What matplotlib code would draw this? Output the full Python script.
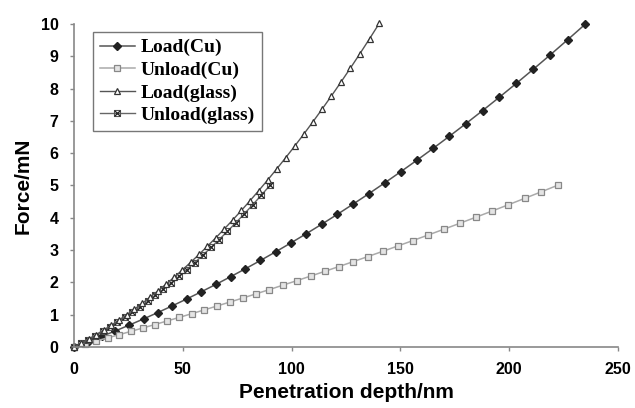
import matplotlib
matplotlib.use("Agg")
import matplotlib.pyplot as plt
from matplotlib.legend_handler import HandlerTuple

# depth (nm) and force (mN)
load_cu_depth = [0, 6.30, 12.65, 19.04, 25.48, 31.98, 38.52, 45.10, 51.74, 58.43,
                 65.17, 71.96, 78.80, 85.69, 92.63, 99.63, 106.67, 113.77, 120.93, 128.13,
                 135.39, 142.71, 150.08, 157.51, 164.99, 172.53, 180.12, 187.77, 195.48, 203.24,
                 211.07, 218.95, 226.89, 234.90]
load_cu_force = [0, 0.159, 0.326, 0.499, 0.681, 0.870, 1.067, 1.272, 1.485, 1.707,
                 1.937, 2.176, 2.423, 2.679, 2.945, 3.220, 3.504, 3.798, 4.103, 4.418,
                 4.742, 5.077, 5.423, 5.779, 6.147, 6.526, 6.916, 7.319, 7.733, 8.159,
                 8.599, 9.049, 9.514, 9.992]

unload_cu_depth = [0, 5.10, 10.27, 15.49, 20.79, 26.15, 31.58, 37.08, 42.65, 48.29,
                   54.00, 59.78, 65.63, 71.56, 77.56, 83.64, 89.79, 96.02, 102.34, 108.72,
                   115.19, 121.75, 128.38, 135.10, 141.90, 148.79, 155.77, 162.83, 169.98, 177.22,
                   184.56, 191.98, 199.50, 207.12, 214.83, 222.63]
unload_cu_force = [0, 0.092, 0.187, 0.283, 0.382, 0.484, 0.587, 0.694, 0.803, 0.915,
                   1.029, 1.147, 1.267, 1.390, 1.516, 1.645, 1.778, 1.914, 2.053, 2.195,
                   2.341, 2.491, 2.644, 2.801, 2.962, 3.127, 3.296, 3.469, 3.646, 3.828,
                   4.015, 4.205, 4.401, 4.602, 4.807, 5.017]

load_gl_depth = [0, 3.38, 6.78, 10.22, 13.68, 17.16, 20.68, 24.22, 27.80, 31.40,
                 35.03, 38.68, 42.37, 46.09, 49.84, 53.61, 57.42, 61.26, 65.13, 69.03,
                 72.96, 76.92, 80.92, 84.94, 89.00, 93.09, 97.22, 101.37, 105.56, 109.78,
                 114.04, 118.33, 122.65, 127.01, 131.41, 135.83, 140.30]
load_gl_force = [0, 0.121, 0.249, 0.384, 0.527, 0.676, 0.834, 0.999, 1.173, 1.354,
                 1.543, 1.741, 1.948, 2.163, 2.388, 2.621, 2.864, 3.117, 3.379, 3.652,
                 3.934, 4.227, 4.531, 4.845, 5.170, 5.507, 5.855, 6.215, 6.586, 6.970,
                 7.367, 7.776, 8.198, 8.633, 9.083, 9.544, 10.021]

unload_gl_depth = [0, 3.27, 6.55, 9.88, 13.23, 16.59, 19.99, 23.42, 26.88, 30.36,
                   33.87, 37.40, 40.96, 44.56, 48.19, 51.83, 55.51, 59.23, 62.97, 66.74,
                   70.54, 74.37, 78.23, 82.12, 86.05, 90.00]
unload_gl_force = [0, 0.112, 0.230, 0.355, 0.486, 0.623, 0.768, 0.919, 1.078, 1.243,
                   1.416, 1.596, 1.783, 1.979, 2.183, 2.395, 2.615, 2.844, 3.081, 3.327,
                   3.582, 3.847, 4.120, 4.403, 4.697, 5.000]

labels = ["Load(Cu)", "Unload(Cu)", "Load(glass)", "Unload(glass)"]

plt.rcParams['font.family'] = ['Liberation Sans', 'DejaVu Sans']
fig = plt.figure(figsize=(6.35, 4.08), dpi=100)
ax = fig.add_axes([74/635, 1-347/408, 544/635, 323/408])

l1, = ax.plot(load_cu_depth, load_cu_force, color='#555555', lw=1.1,
              marker='D', ms=4.2, mfc='#222222', mec='#222222', clip_on=False)
l2, = ax.plot(unload_cu_depth, unload_cu_force, color='#aaaaaa', lw=1.1,
              marker='s', ms=5, mfc='#e4e4e4', mec='#888888', mew=0.9, clip_on=False)
l4a, = ax.plot(unload_gl_depth, unload_gl_force, color='#666666', lw=1.0,
               marker='s', ms=5, mfc='none', mec='#555555', mew=0.8, clip_on=False)
l4b, = ax.plot(unload_gl_depth, unload_gl_force, ls='none',
               marker='x', ms=5, mec='#222222', mew=0.9, clip_on=False)
l3, = ax.plot(load_gl_depth, load_gl_force, color='#555555', lw=1.0,
              marker='^', ms=5, mfc='white', mec='#333333', mew=0.9, clip_on=False)

ax.set_xlim(0, 250)
ax.set_ylim(0, 10)
ax.set_xticks([0, 50, 100, 150, 200, 250])
ax.set_yticks(range(0, 11))
for s in ['top', 'right']:
    ax.spines[s].set_visible(False)
for s in ['left', 'bottom']:
    ax.spines[s].set_color('#888888')
    ax.spines[s].set_linewidth(1.2)
ax.tick_params(direction='out', length=3, width=1, color='#888888', pad=8,
               labelsize=11.5)
for t in ax.get_xticklabels() + ax.get_yticklabels():
    t.set_fontweight('bold')
ax.set_xlabel("Penetration depth/nm", fontsize=15, fontweight='bold', labelpad=4)
ax.set_ylabel("Force/mN", fontsize=15, fontweight='bold', labelpad=6)

leg = ax.legend([l1, l2, l3, (l4a, l4b)], labels,
                handler_map={tuple: HandlerTuple(ndivide=1)},
                loc='upper left', bbox_to_anchor=(93/635, 1-32/408),
                bbox_transform=fig.transFigure, borderaxespad=0,
                prop={'family': 'Liberation Serif', 'weight': 'bold', 'size': 14},
                frameon=True, fancybox=False, edgecolor='#555555',
                handlelength=1.8, handletextpad=0.3, labelspacing=0.25,
                borderpad=0.35)
leg.get_frame().set_linewidth(1.0)
leg.set_zorder(5)

fig.savefig("out.png", dpi=100)
